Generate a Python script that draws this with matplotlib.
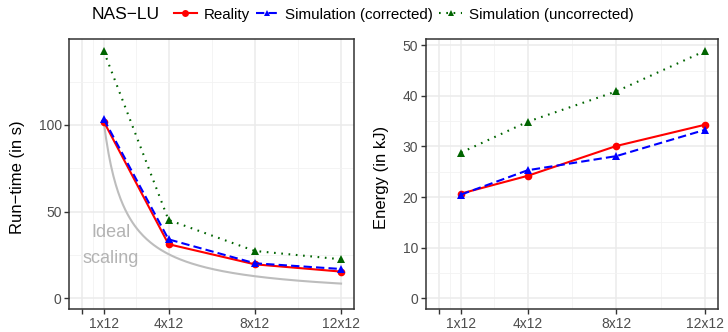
import numpy as np
import matplotlib
matplotlib.use("Agg")
import matplotlib.pyplot as plt
from matplotlib.lines import Line2D

plt.rcParams['font.family'] = ['Liberation Sans', 'DejaVu Sans']

# Configurations (number of nodes x 12 cores)
nodes = [1, 4, 8, 12]
tick_pos = [0, 1, 4, 8, 12]
tick_labels = ["", "1x12", "4x12", "8x12", "12x12"]

# Run-time in seconds
runtime_reality = [101.9, 31.2, 19.6, 15.4]
runtime_corrected = [103.4, 34.0, 20.2, 16.9]
runtime_uncorrected = [142.5, 45.2, 27.3, 22.5]

# Energy in kJ
energy_reality = [20.7, 24.2, 30.1, 34.3]
energy_corrected = [20.5, 25.3, 28.1, 33.3]
energy_uncorrected = [28.8, 34.9, 40.9, 48.9]

series_names = ["Reality", "Simulation (corrected)", "Simulation (uncorrected)"]
colors = ["#FF0000", "#0000FF", "#006400"]
linestyles = ["-", (0, (4, 2)), (0, (0.8, 2.7))]
markers = ["o", "^", "^"]

W, H = 728, 332
fig = plt.figure(figsize=(W / 100, H / 100), dpi=100)

def add_ax(x0, y0, x1, y1):
    return fig.add_axes([x0 / W, 1 - y1 / H, (x1 - x0) / W, (y1 - y0) / H])

ax1 = add_ax(69.3, 39.3, 354.0, 309.3)
ax2 = add_ax(425.7, 39.3, 718.3, 309.3)

def style(ax, ylim, yticks, yminor, ylabel, label_x):
    ax.set_xlim(-0.6, 12.6)
    ax.set_ylim(*ylim)
    ax.set_xticks(tick_pos)
    ax.set_xticklabels(tick_labels)
    ax.set_xticks([0.5, 2.5, 6, 10], minor=True)
    ax.set_yticks(yticks)
    ax.set_yticks(yminor, minor=True)
    ax.grid(which="major", color="#ebebeb", linewidth=1.1, zorder=0)
    ax.grid(which="minor", color="#f2f2f2", linewidth=0.6, zorder=0)
    ax.set_axisbelow(True)
    for s in ax.spines.values():
        s.set_color("#333333")
        s.set_linewidth(1.1)
    ax.tick_params(which="major", length=3.5, width=1.0, color="#333333",
                   labelsize=10, labelcolor="#4d4d4d", pad=2)
    ax.tick_params(which="minor", length=0)
    lab = ax.set_ylabel(ylabel, fontsize=12, color="black")
    lab.set_va("center")
    ax.yaxis.set_label_coords(label_x, 0.49)

def draw(ax, ys):
    for y, c, ls, m in zip(ys, colors, linestyles, markers):
        ax.plot(nodes, y, color=c, linestyle=ls, linewidth=1.5,
                marker=m, markersize=5.5, markeredgewidth=0, zorder=3)

# Ideal scaling: single-node run-time divided by node count
ideal_base = runtime_reality[0]
xs = np.linspace(1, 12, 200)
ax1.plot(xs, ideal_base / xs, color="#bdbdbd", linewidth=1.5, zorder=2)
ax1.text(1.33, 30.2, "Ideal\nscaling", color="#b3b3b3", fontsize=13,
         ha="center", va="center", linespacing=1.7)

draw(ax1, [runtime_reality, runtime_corrected, runtime_uncorrected])
draw(ax2, [energy_reality, energy_corrected, energy_uncorrected])

style(ax1, (-6.35, 149.4), [0, 50, 100], [25, 75, 125],
      "Run\u2212time (in s)", -0.181)
style(ax2, (-2.2, 51.2), [0, 10, 20, 30, 40, 50],
      [5, 15, 25, 35, 45], "Energy (in kJ)", -0.150)

# Legend along the top
fig.text(92 / W, 1 - 14.5 / H, "NAS\u2212LU", fontsize=12.5, ha="left", va="center")
handles = [Line2D([0], [0], color=c, linestyle=ls, linewidth=1.5, marker=m,
                  markersize=5, markeredgewidth=0)
           for c, ls, m in zip(colors, linestyles, markers)]
fig.legend(handles, series_names, loc="center left",
           bbox_to_anchor=(174 / W, 1 - 14.5 / H), ncol=3, frameon=False,
           fontsize=10.9, handlelength=1.5, handletextpad=0.45,
           columnspacing=0.4, borderaxespad=0, borderpad=0)

fig.savefig("out.png", dpi=100)
